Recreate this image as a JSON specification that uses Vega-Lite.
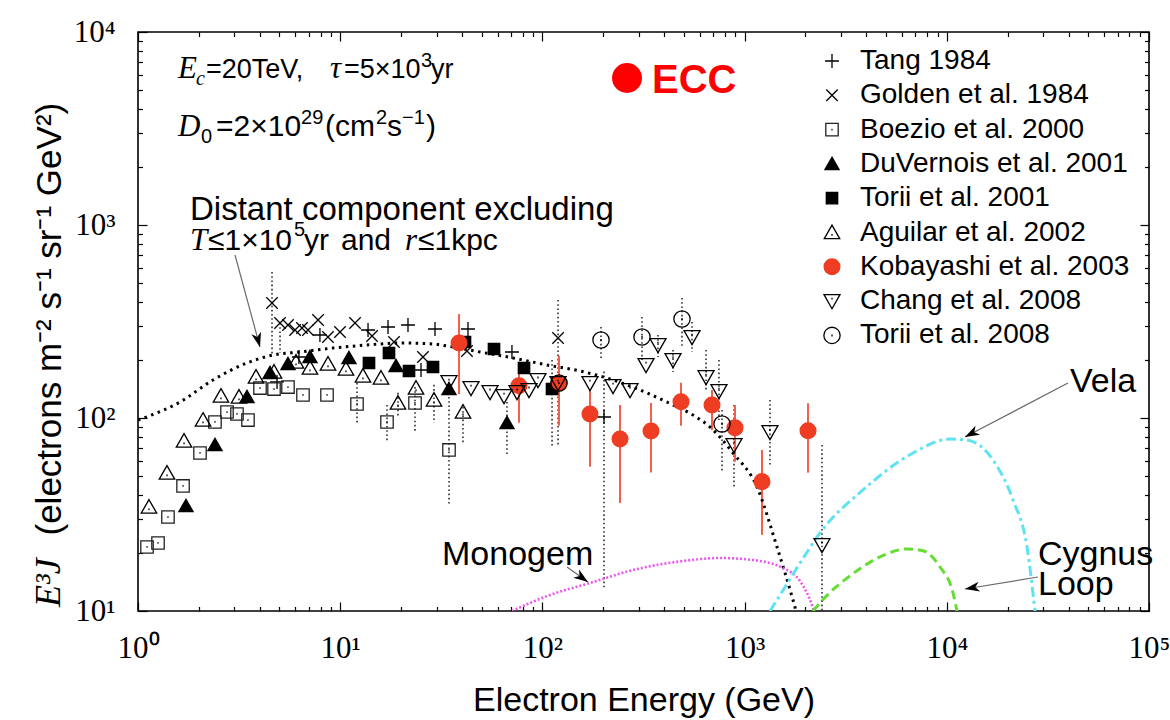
{
  "$schema": "https://vega.github.io/schema/vega-lite/v6.json",
  "width": 1011,
  "height": 579,
  "autosize": {"type": "none"},
  "padding": {"left": 138, "top": 32, "right": 21, "bottom": 109},
  "background": "white",
  "config": {
    "view": {"stroke": "black", "strokeWidth": 1.6, "fill": "white"},
    "axis": {
      "domain": false, "grid": false, "tickColor": "black", "tickWidth": 1.2,
      "labelFont": "Liberation Serif", "labelFontSize": 31, "labelColor": "black",
      "titleFont": "Liberation Sans", "titleFontSize": 34, "titleColor": "black", "titleFontWeight": "normal"
    },
    "legend": {
      "labelFont": "Liberation Sans", "labelFontSize": 28, "labelColor": "black", "labelLimit": 400,
      "symbolStrokeWidth": 1.3
    }
  },
  "datasets": {
    "obs": [
      {"set": "Tang 1984", "E": 4.87, "F": 153.7},
      {"set": "Tang 1984", "E": 6.25, "F": 207.1},
      {"set": "Tang 1984", "E": 7.94, "F": 269.2},
      {"set": "Tang 1984", "E": 13.73, "F": 285.8},
      {"set": "Tang 1984", "E": 17.24, "F": 296.2},
      {"set": "Tang 1984", "E": 21.64, "F": 303.3},
      {"set": "Tang 1984", "E": 25.1, "F": 177.3},
      {"set": "Tang 1984", "E": 29.43, "F": 289.1},
      {"set": "Tang 1984", "E": 42.85, "F": 289.1},
      {"set": "Tang 1984", "E": 70.7, "F": 219.8},
      {"set": "Tang 1984", "E": 201.7, "F": 101.2, "lo": 12.85, "hi": 174},
      {"set": "Golden et al. 1984", "E": 4.6, "F": 394.4, "lo": 212, "hi": 570.8},
      {"set": "Golden et al. 1984", "E": 5.04, "F": 310.6, "lo": 217.2, "hi": 310.6},
      {"set": "Golden et al. 1984", "E": 5.52, "F": 303.3},
      {"set": "Golden et al. 1984", "E": 5.98, "F": 285.8},
      {"set": "Golden et al. 1984", "E": 6.47, "F": 292.6},
      {"set": "Golden et al. 1984", "E": 6.93, "F": 285.8},
      {"set": "Golden et al. 1984", "E": 7.77, "F": 321.9},
      {"set": "Golden et al. 1984", "E": 8.7, "F": 262.8},
      {"set": "Golden et al. 1984", "E": 9.98, "F": 279.0},
      {"set": "Golden et al. 1984", "E": 11.84, "F": 310.6},
      {"set": "Golden et al. 1984", "E": 14.37, "F": 266.0},
      {"set": "Golden et al. 1984", "E": 18.45, "F": 247.6},
      {"set": "Golden et al. 1984", "E": 25.67, "F": 207.1},
      {"set": "Golden et al. 1984", "E": 42.37, "F": 222.4},
      {"set": "Golden et al. 1984", "E": 119.5, "F": 259.7, "lo": 70.74, "hi": 408.7},
      {"set": "Boezio et al. 2000", "E": 1.108, "F": 21.46},
      {"set": "Boezio et al. 2000", "E": 1.256, "F": 22.51},
      {"set": "Boezio et al. 2000", "E": 1.407, "F": 30.69},
      {"set": "Boezio et al. 2000", "E": 1.67, "F": 44.44},
      {"set": "Boezio et al. 2000", "E": 2.026, "F": 65.87},
      {"set": "Boezio et al. 2000", "E": 2.403, "F": 95.35},
      {"set": "Boezio et al. 2000", "E": 2.755, "F": 107.4},
      {"set": "Boezio et al. 2000", "E": 3.087, "F": 104.9},
      {"set": "Boezio et al. 2000", "E": 3.499, "F": 97.6},
      {"set": "Boezio et al. 2000", "E": 4.012, "F": 143.0},
      {"set": "Boezio et al. 2000", "E": 4.706, "F": 141.3},
      {"set": "Boezio et al. 2000", "E": 5.518, "F": 144.7},
      {"set": "Boezio et al. 2000", "E": 6.546, "F": 131.6},
      {"set": "Boezio et al. 2000", "E": 8.605, "F": 131.6},
      {"set": "Boezio et al. 2000", "E": 12.11, "F": 118.2, "lo": 94.2, "hi": 151.8},
      {"set": "Boezio et al. 2000", "E": 17.04, "F": 95.35, "lo": 75.1, "hi": 116.8},
      {"set": "Boezio et al. 2000", "E": 23.44, "F": 119.6, "lo": 84.6, "hi": 144.7},
      {"set": "Boezio et al. 2000", "E": 34.52, "F": 68.3, "lo": 35.4, "hi": 128.5},
      {"set": "DuVernois et al. 2001", "E": 1.727, "F": 35.0},
      {"set": "DuVernois et al. 2001", "E": 2.403, "F": 72.5},
      {"set": "DuVernois et al. 2001", "E": 3.46, "F": 128.5},
      {"set": "DuVernois et al. 2001", "E": 4.496, "F": 171.1},
      {"set": "DuVernois et al. 2001", "E": 5.518, "F": 190.5},
      {"set": "DuVernois et al. 2001", "E": 7.088, "F": 207.1},
      {"set": "DuVernois et al. 2001", "E": 11.05, "F": 204.6},
      {"set": "DuVernois et al. 2001", "E": 18.88, "F": 186.0},
      {"set": "DuVernois et al. 2001", "E": 34.52, "F": 141.3},
      {"set": "DuVernois et al. 2001", "E": 66.8, "F": 94.2, "lo": 64.3, "hi": 121.0},
      {"set": "Torii et al. 2001", "E": 13.88, "F": 192.8},
      {"set": "Torii et al. 2001", "E": 17.43, "F": 217.2},
      {"set": "Torii et al. 2001", "E": 21.89, "F": 175.2},
      {"set": "Torii et al. 2001", "E": 28.77, "F": 183.8},
      {"set": "Torii et al. 2001", "E": 41.42, "F": 247.6},
      {"set": "Torii et al. 2001", "E": 57.63, "F": 227.8},
      {"set": "Torii et al. 2001", "E": 81.1, "F": 181.6},
      {"set": "Torii et al. 2001", "E": 111.6, "F": 141.3, "lo": 69.9, "hi": 199.8},
      {"set": "Aguilar et al. 2002", "E": 1.133, "F": 34.6},
      {"set": "Aguilar et al. 2002", "E": 1.391, "F": 51.9},
      {"set": "Aguilar et al. 2002", "E": 1.689, "F": 76.0},
      {"set": "Aguilar et al. 2002", "E": 2.097, "F": 97.6},
      {"set": "Aguilar et al. 2002", "E": 2.573, "F": 130.0},
      {"set": "Aguilar et al. 2002", "E": 3.159, "F": 128.5},
      {"set": "Aguilar et al. 2002", "E": 3.834, "F": 163.1},
      {"set": "Aguilar et al. 2002", "E": 4.706, "F": 173.1},
      {"set": "Aguilar et al. 2002", "E": 6.045, "F": 195.1},
      {"set": "Aguilar et al. 2002", "E": 7.088, "F": 181.6},
      {"set": "Aguilar et al. 2002", "E": 8.703, "F": 190.5},
      {"set": "Aguilar et al. 2002", "E": 10.68, "F": 179.4},
      {"set": "Aguilar et al. 2002", "E": 12.96, "F": 165.1},
      {"set": "Aguilar et al. 2002", "E": 15.91, "F": 161.2},
      {"set": "Aguilar et al. 2002", "E": 19.31, "F": 119.6, "lo": 100, "hi": 135},
      {"set": "Aguilar et al. 2002", "E": 23.71, "F": 143.0},
      {"set": "Aguilar et al. 2002", "E": 29.1, "F": 124.0, "lo": 94.2, "hi": 148.5},
      {"set": "Aguilar et al. 2002", "E": 40.49, "F": 107.4, "lo": 74.2, "hi": 114.0},
      {"set": "Kobayashi et al. 2003", "E": 38.7, "F": 244.7, "lo": 133.1, "hi": 345.6},
      {"set": "Kobayashi et al. 2003", "E": 76.6, "F": 147.0, "lo": 94.6, "hi": 195.7},
      {"set": "Kobayashi et al. 2003", "E": 120.8, "F": 151.3, "lo": 91.2, "hi": 209.6},
      {"set": "Kobayashi et al. 2003", "E": 171.9, "F": 104.9, "lo": 55.9, "hi": 139.7},
      {"set": "Kobayashi et al. 2003", "E": 242.0, "F": 77.8, "lo": 36.3, "hi": 116.8},
      {"set": "Kobayashi et al. 2003", "E": 344.4, "F": 85.6, "lo": 52.2, "hi": 119.6},
      {"set": "Kobayashi et al. 2003", "E": 484.7, "F": 121.5, "lo": 91.2, "hi": 152.4},
      {"set": "Kobayashi et al. 2003", "E": 689.9, "F": 116.8, "lo": 86.7, "hi": 139.7},
      {"set": "Kobayashi et al. 2003", "E": 896.4, "F": 89.1, "lo": 59.4, "hi": 116.8},
      {"set": "Kobayashi et al. 2003", "E": 1219, "F": 46.8, "lo": 24.8, "hi": 68.3},
      {"set": "Kobayashi et al. 2003", "E": 2059, "F": 85.9, "lo": 52.1, "hi": 119.2},
      {"set": "Chang et al. 2008", "E": 34.52, "F": 153.6},
      {"set": "Chang et al. 2008", "E": 44.36, "F": 143.0},
      {"set": "Chang et al. 2008", "E": 55.07, "F": 136.4},
      {"set": "Chang et al. 2008", "E": 64.59, "F": 130.0},
      {"set": "Chang et al. 2008", "E": 74.88, "F": 136.4},
      {"set": "Chang et al. 2008", "E": 85.85, "F": 139.7},
      {"set": "Chang et al. 2008", "E": 95.1, "F": 157.4},
      {"set": "Chang et al. 2008", "E": 119.5, "F": 151.8},
      {"set": "Chang et al. 2008", "E": 171.9, "F": 151.8},
      {"set": "Chang et al. 2008", "E": 223.5, "F": 146.5},
      {"set": "Chang et al. 2008", "E": 271.2, "F": 139.7},
      {"set": "Chang et al. 2008", "E": 325.4, "F": 188.2},
      {"set": "Chang et al. 2008", "E": 373.0, "F": 238.9, "lo": 207.1, "hi": 269.2},
      {"set": "Chang et al. 2008", "E": 442.5, "F": 199.8, "lo": 173.1, "hi": 225.1},
      {"set": "Chang et al. 2008", "E": 549.5, "F": 262.8, "lo": 219.8, "hi": 314.3},
      {"set": "Chang et al. 2008", "E": 644.5, "F": 163.1, "lo": 139.7, "hi": 225.1},
      {"set": "Chang et al. 2008", "E": 746.9, "F": 138.0, "lo": 97.6, "hi": 199.8},
      {"set": "Chang et al. 2008", "E": 886.3, "F": 72.5, "lo": 43.9, "hi": 116.8},
      {"set": "Chang et al. 2008", "E": 1335, "F": 84.6, "lo": 57.1, "hi": 124.0},
      {"set": "Chang et al. 2008", "E": 2414, "F": 21.98, "lo": 10, "hi": 72.5},
      {"set": "Torii et al. 2008", "E": 120.8, "F": 151.8},
      {"set": "Torii et al. 2008", "E": 194.9, "F": 253.6, "lo": 204.6, "hi": 296.2},
      {"set": "Torii et al. 2008", "E": 310.9, "F": 262.8, "lo": 199.8, "hi": 333.6},
      {"set": "Torii et al. 2008", "E": 490.2, "F": 325.8, "lo": 230.5, "hi": 418.6},
      {"set": "Torii et al. 2008", "E": 773.3, "F": 93.1, "lo": 51.9, "hi": 110.0}
    ],
    "curves": [
      {"c": "distant", "E": 1, "F": 97.6},
      {"c": "distant", "E": 1.613, "F": 121.0},
      {"c": "distant", "E": 2.349, "F": 157.4},
      {"c": "distant", "E": 3.46, "F": 192.8},
      {"c": "distant", "E": 4.652, "F": 212.0},
      {"c": "distant", "E": 6.327, "F": 219.8},
      {"c": "distant", "E": 9.213, "F": 230.5},
      {"c": "distant", "E": 13.57, "F": 238.9},
      {"c": "distant", "E": 19.76, "F": 244.7},
      {"c": "distant", "E": 28.77, "F": 241.8},
      {"c": "distant", "E": 33.75, "F": 236.1},
      {"c": "distant", "E": 49.14, "F": 219.8},
      {"c": "distant", "E": 71.54, "F": 204.6},
      {"c": "distant", "E": 105.4, "F": 188.2},
      {"c": "distant", "E": 153.5, "F": 175.2},
      {"c": "distant", "E": 223.5, "F": 157.4},
      {"c": "distant", "E": 329.1, "F": 134.8},
      {"c": "distant", "E": 442.5, "F": 116.8},
      {"c": "distant", "E": 555.7, "F": 103.6},
      {"c": "distant", "E": 674.6, "F": 89.8},
      {"c": "distant", "E": 876.2, "F": 65.87},
      {"c": "distant", "E": 1152, "F": 43.9},
      {"c": "distant", "E": 1446, "F": 21.46},
      {"c": "distant", "E": 1735, "F": 11.4},
      {"c": "distant", "E": 1796, "F": 10},
      {"c": "monogem", "E": 70.7, "F": 10},
      {"c": "monogem", "E": 86.8, "F": 11.0},
      {"c": "monogem", "E": 109.0, "F": 12.1},
      {"c": "monogem", "E": 171.9, "F": 13.97},
      {"c": "monogem", "E": 280.6, "F": 16.3},
      {"c": "monogem", "E": 496, "F": 18.16},
      {"c": "monogem", "E": 755.7, "F": 18.82},
      {"c": "monogem", "E": 1100, "F": 18.37},
      {"c": "monogem", "E": 1548, "F": 16.7},
      {"c": "monogem", "E": 1879, "F": 14.3},
      {"c": "monogem", "E": 2154, "F": 10.74},
      {"c": "monogem", "E": 2204, "F": 10},
      {"c": "vela", "E": 1335, "F": 10},
      {"c": "vela", "E": 1497, "F": 12.1},
      {"c": "vela", "E": 1879, "F": 17.7},
      {"c": "vela", "E": 2360, "F": 25.4},
      {"c": "vela", "E": 3851, "F": 42.4},
      {"c": "vela", "E": 6806, "F": 65.87},
      {"c": "vela", "E": 10370, "F": 77.8},
      {"c": "vela", "E": 12588, "F": 76.9},
      {"c": "vela", "E": 16925, "F": 60.6},
      {"c": "vela", "E": 21257, "F": 37.6},
      {"c": "vela", "E": 24925, "F": 21.46},
      {"c": "vela", "E": 27310, "F": 10},
      {"c": "cygnus", "E": 2179, "F": 10},
      {"c": "cygnus", "E": 2645, "F": 12.5},
      {"c": "cygnus", "E": 3210, "F": 14.8},
      {"c": "cygnus", "E": 4673, "F": 19.05},
      {"c": "cygnus", "E": 6356, "F": 20.96},
      {"c": "cygnus", "E": 7625, "F": 20.5},
      {"c": "cygnus", "E": 9256, "F": 16.9},
      {"c": "cygnus", "E": 10733, "F": 12.4},
      {"c": "cygnus", "E": 11231, "F": 10}
    ],
    "arrows": [
      {"to": "distant", "x1": 3.018, "y1": 699.2, "x2": 4.012, "y2": 233.3, "angle": 164.8},
      {"to": "monogem", "x1": 132.3, "y1": 16.9, "x2": 168.1, "y2": 14.13, "angle": 125.5},
      {"to": "vela", "x1": 39760, "y1": 151.8, "x2": 12303, "y2": 79.7, "angle": 242.3},
      {"to": "cygnus", "x1": 28250, "y1": 15.0, "x2": 12303, "y2": 13.0, "angle": 260.7}
    ]
  },
  "resolve": {"axis": {"x": "independent", "y": "independent"}},
  "layer": [
    {
      "data": {"name": "obs"},
      "transform": [{"filter": "datum.lo != null && datum.set != 'Kobayashi et al. 2003'"}],
      "mark": {"type": "rule", "color": "black", "strokeWidth": 1.3, "strokeDash": [1.6, 2.6]},
      "encoding": {
        "x": {
          "field": "E", "type": "quantitative",
          "scale": {"type": "log", "domain": [1, 100000], "nice": false},
          "axis": {
            "orient": "bottom", "values": [1, 10, 100, 1000, 10000, 100000], "tickSize": -9,
            "labelPadding": 55, "labelBaseline": "alphabetic", "labelFlush": false, "labelOverlap": false,
            "labelExpr": "'10' + ['⁰','¹','²','³','⁴','⁵'][round(log(datum.value) / LN10)]",
            "title": "Electron Energy (GeV)", "titleX": 505.5, "titleY": 99,
            "titleBaseline": "alphabetic", "titleAlign": "center", "titleAnchor": null
          }
        },
        "y": {
          "field": "hi", "type": "quantitative",
          "scale": {"type": "log", "domain": [10, 10000], "nice": false},
          "axis": {
            "orient": "left", "values": [10, 100, 1000, 10000], "tickSize": -9,
            "labelPadding": 32, "labelBaseline": "middle", "labelAlign": "right", "labelOverlap": false,
            "labelExpr": "'10' + ['⁰','¹','²','³','⁴','⁵'][round(log(datum.value) / LN10)]",
            "title": "(electrons m⁻² s⁻¹ sr⁻¹ GeV²)", "titleFontSize": 35,
            "titleAngle": -90, "titleX": -78, "titleY": 503, "titleAlign": "left", "titleBaseline": "alphabetic"
          }
        },
        "y2": {"field": "lo"}
      }
    },
    {
      "data": {"name": "obs"},
      "transform": [{"filter": "datum.lo != null && datum.set == 'Kobayashi et al. 2003'"}],
      "mark": {"type": "rule", "color": "#f2604d", "strokeWidth": 2},
      "encoding": {
        "x": {
          "field": "E", "type": "quantitative",
          "scale": {"type": "log", "domain": [1, 100000], "nice": false},
          "axis": {
            "orient": "bottom", "tickSize": -4.5, "labels": false, "title": null,
            "values": [2,3,4,5,6,7,8,9,20,30,40,50,60,70,80,90,200,300,400,500,600,700,800,900,2000,3000,4000,5000,6000,7000,8000,9000,20000,30000,40000,50000,60000,70000,80000,90000]
          }
        },
        "y": {
          "field": "hi", "type": "quantitative",
          "scale": {"type": "log", "domain": [10, 10000], "nice": false},
          "axis": {
            "orient": "left", "tickSize": -4.5, "labels": false, "title": null,
            "values": [20,30,40,50,60,70,80,90,200,300,400,500,600,700,800,900,2000,3000,4000,5000,6000,7000,8000,9000]
          }
        },
        "y2": {"field": "lo"}
      }
    },
    {
      "data": {"name": "curves"},
      "transform": [{"filter": "datum.c == 'distant'"}],
      "mark": {"type": "line", "color": "black", "strokeWidth": 3, "strokeDash": [2.5, 4.5], "interpolate": "monotone", "clip": true},
      "encoding": {
        "x": {
          "field": "E", "type": "quantitative",
          "scale": {"type": "log", "domain": [1, 100000], "nice": false},
          "axis": {"orient": "top", "values": [1, 10, 100, 1000, 10000, 100000], "tickSize": -9, "labels": false, "title": null}
        },
        "y": {
          "field": "F", "type": "quantitative",
          "scale": {"type": "log", "domain": [10, 10000], "nice": false},
          "axis": {"orient": "right", "values": [10, 100, 1000, 10000], "tickSize": -9, "labels": false, "title": null}
        }
      }
    },
    {
      "data": {"name": "curves"},
      "transform": [{"filter": "datum.c == 'monogem'"}],
      "mark": {"type": "line", "color": "#ee55ee", "strokeWidth": 2.6, "strokeDash": [2, 2], "interpolate": "monotone", "clip": true},
      "encoding": {
        "x": {
          "field": "E", "type": "quantitative",
          "scale": {"type": "log", "domain": [1, 100000], "nice": false},
          "axis": {
            "orient": "top", "tickSize": -4.5, "labels": false, "title": null,
            "values": [2,3,4,5,6,7,8,9,20,30,40,50,60,70,80,90,200,300,400,500,600,700,800,900,2000,3000,4000,5000,6000,7000,8000,9000,20000,30000,40000,50000,60000,70000,80000,90000]
          }
        },
        "y": {
          "field": "F", "type": "quantitative",
          "scale": {"type": "log", "domain": [10, 10000], "nice": false},
          "axis": {
            "orient": "right", "tickSize": -4.5, "labels": false, "title": null,
            "values": [20,30,40,50,60,70,80,90,200,300,400,500,600,700,800,900,2000,3000,4000,5000,6000,7000,8000,9000]
          }
        }
      }
    },
    {
      "data": {"name": "curves"},
      "transform": [{"filter": "datum.c == 'vela'"}],
      "mark": {"type": "line", "color": "#5fe3f2", "strokeWidth": 3, "strokeDash": [10, 4, 3, 4], "interpolate": "monotone", "clip": true},
      "encoding": {
        "x": {"field": "E", "type": "quantitative", "scale": {"type": "log", "domain": [1, 100000], "nice": false}, "axis": null},
        "y": {"field": "F", "type": "quantitative", "scale": {"type": "log", "domain": [10, 10000], "nice": false}, "axis": null}
      }
    },
    {
      "data": {"name": "curves"},
      "transform": [{"filter": "datum.c == 'cygnus'"}],
      "mark": {"type": "line", "color": "#66dd33", "strokeWidth": 3, "strokeDash": [9, 5], "interpolate": "monotone", "clip": true},
      "encoding": {
        "x": {"field": "E", "type": "quantitative", "scale": {"type": "log", "domain": [1, 100000], "nice": false}, "axis": null},
        "y": {"field": "F", "type": "quantitative", "scale": {"type": "log", "domain": [10, 10000], "nice": false}, "axis": null}
      }
    },
    {
      "data": {"name": "arrows"},
      "mark": {"type": "rule", "color": "#6b6b6b", "strokeWidth": 1.2},
      "encoding": {
        "x": {"field": "x1", "type": "quantitative", "axis": null},
        "y": {"field": "y1", "type": "quantitative", "axis": null},
        "x2": {"field": "x2"},
        "y2": {"field": "y2"}
      }
    },
    {
      "data": {"name": "arrows"},
      "mark": {"type": "point", "shape": "M0,0L-0.55,1.6L0,1.15L0.55,1.6Z", "filled": true, "color": "black", "size": 330, "opacity": 1},
      "encoding": {
        "x": {"field": "x2", "type": "quantitative", "axis": null},
        "y": {"field": "y2", "type": "quantitative", "axis": null},
        "angle": {"field": "angle", "type": "quantitative", "scale": null}
      }
    },
    {
      "data": {"name": "obs"},
      "mark": {"type": "point", "strokeWidth": 1.3, "opacity": 1},
      "encoding": {
        "x": {"field": "E", "type": "quantitative", "axis": null},
        "y": {"field": "F", "type": "quantitative", "axis": null},
        "shape": {
          "field": "set", "type": "nominal",
          "scale": {
            "domain": ["Tang 1984", "Golden et al. 1984", "Boezio et al. 2000", "DuVernois et al. 2001", "Torii et al. 2001", "Aguilar et al. 2002", "Kobayashi et al. 2003", "Chang et al. 2008", "Torii et al. 2008"],
            "range": [
              "M-1,0H1M0,-1V1",
              "M-0.8,-0.8L0.8,0.8M-0.8,0.8L0.8,-0.8",
              "M-0.85,-0.85H0.85V0.85H-0.85Z M0,-0.12V0.12",
              "M0,-0.9L0.95,0.75H-0.95Z",
              "M-0.75,-0.75H0.75V0.75H-0.75Z",
              "M0,-0.95L1,0.8H-1Z M0,0.2V0.42",
              "circle",
              "M-1,-0.8H1L0,0.95Z M0,-0.42V-0.2",
              "M1,0A1,1 0 1,1 -1,0A1,1 0 1,1 1,0Z M0,-0.12V0.12"
            ]
          },
          "legend": {"orient": "none", "legendX": 680, "legendY": 15, "title": null, "padding": 0, "rowPadding": 6.3, "labelOffset": 14}
        },
        "fill": {
          "field": "set", "type": "nominal",
          "scale": {
            "domain": ["Tang 1984", "Golden et al. 1984", "Boezio et al. 2000", "DuVernois et al. 2001", "Torii et al. 2001", "Aguilar et al. 2002", "Kobayashi et al. 2003", "Chang et al. 2008", "Torii et al. 2008"],
            "range": ["transparent", "transparent", "transparent", "black", "black", "transparent", "#ee3d23", "transparent", "transparent"]
          },
          "legend": {"orient": "none", "legendX": 680, "legendY": 15, "title": null, "padding": 0, "rowPadding": 6.3, "labelOffset": 14}
        },
        "stroke": {
          "field": "set", "type": "nominal",
          "scale": {
            "domain": ["Tang 1984", "Golden et al. 1984", "Boezio et al. 2000", "DuVernois et al. 2001", "Torii et al. 2001", "Aguilar et al. 2002", "Kobayashi et al. 2003", "Chang et al. 2008", "Torii et al. 2008"],
            "range": ["black", "black", "#222222", "black", "black", "black", "#ee3d23", "black", "black"]
          },
          "legend": {"orient": "none", "legendX": 680, "legendY": 15, "title": null, "padding": 0, "rowPadding": 6.3, "labelOffset": 14}
        },
        "size": {
          "field": "set", "type": "nominal",
          "scale": {
            "domain": ["Tang 1984", "Golden et al. 1984", "Boezio et al. 2000", "DuVernois et al. 2001", "Torii et al. 2001", "Aguilar et al. 2002", "Kobayashi et al. 2003", "Chang et al. 2008", "Torii et al. 2008"],
            "range": [196, 265, 234, 219, 300, 225, 390, 225, 256]
          },
          "legend": {"orient": "none", "legendX": 680, "legendY": 15, "title": null, "padding": 0, "rowPadding": 6.3, "labelOffset": 14}
        }
      }
    },
    {
      "data": {"values": [
        {"t": "=20TeV,", "x": 2.169, "y": 5777},
        {"t": "=5×10", "x": 10.44, "y": 5777},
        {"t": "yr", "x": 28.13, "y": 5777}
      ]},
      "mark": {"type": "text", "font": "Liberation Sans", "fontSize": 27, "align": "left", "baseline": "alphabetic", "color": "black"},
      "encoding": {
        "x": {"field": "x", "type": "quantitative", "axis": null},
        "y": {"field": "y", "type": "quantitative", "axis": null},
        "text": {"field": "t"}
      }
    },
    {
      "data": {"values": [
        {"t": "=2×10", "x": 2.431, "y": 2891},
        {"t": "(cm", "x": 8.411, "y": 2891},
        {"t": "s", "x": 17.04, "y": 2891},
        {"t": ")", "x": 26.57, "y": 2891},
        {"t": "≤1×10", "x": 2.219, "y": 742.2},
        {"t": "yr", "x": 6.622, "y": 742.2},
        {"t": "and", "x": 10.09, "y": 742.2},
        {"t": "≤1kpc", "x": 24.25, "y": 742.2}
      ]},
      "mark": {"type": "text", "font": "Liberation Sans", "fontSize": 30, "align": "left", "baseline": "alphabetic", "color": "black"},
      "encoding": {
        "x": {"field": "x", "type": "quantitative", "axis": null},
        "y": {"field": "y", "type": "quantitative", "axis": null},
        "text": {"field": "t"}
      }
    },
    {
      "data": {"values": [
        {"t": "E", "x": 1.577, "y": 5777},
        {"t": "τ", "x": 8.905, "y": 5777},
        {"t": "D", "x": 1.577, "y": 2891},
        {"t": "T", "x": 1.808, "y": 742.2},
        {"t": "r", "x": 20.91, "y": 742.2}
      ]},
      "mark": {"type": "text", "font": "Liberation Serif", "fontStyle": "italic", "fontSize": 31, "align": "left", "baseline": "alphabetic", "color": "black"},
      "encoding": {
        "x": {"field": "x", "type": "quantitative", "axis": null},
        "y": {"field": "y", "type": "quantitative", "axis": null},
        "text": {"field": "t"}
      }
    },
    {
      "data": {"values": [
        {"t": "c", "x": 1.936, "y": 5313}
      ]},
      "mark": {"type": "text", "font": "Liberation Serif", "fontStyle": "italic", "fontSize": 20, "align": "left", "baseline": "alphabetic", "color": "black"},
      "encoding": {
        "x": {"field": "x", "type": "quantitative", "axis": null},
        "y": {"field": "y", "type": "quantitative", "axis": null},
        "text": {"field": "t"}
      }
    },
    {
      "data": {"values": [
        {"t": "3", "x": 25.1, "y": 6587},
        {"t": "0", "x": 2.049, "y": 2660},
        {"t": "29", "x": 6.4, "y": 3336},
        {"t": "2", "x": 15.03, "y": 3336},
        {"t": "−1", "x": 20.21, "y": 3336},
        {"t": "5", "x": 5.909, "y": 877}
      ]},
      "mark": {"type": "text", "font": "Liberation Sans", "fontSize": 20, "align": "left", "baseline": "alphabetic", "color": "black"},
      "encoding": {
        "x": {"field": "x", "type": "quantitative", "axis": null},
        "y": {"field": "y", "type": "quantitative", "axis": null},
        "text": {"field": "t"}
      }
    },
    {
      "data": {"values": [
        {"t": "Distant component excluding", "x": 1.808, "y": 1061}
      ]},
      "mark": {"type": "text", "font": "Liberation Sans", "fontSize": 33, "align": "left", "baseline": "alphabetic", "color": "black"},
      "encoding": {
        "x": {"field": "x", "type": "quantitative", "axis": null},
        "y": {"field": "y", "type": "quantitative", "axis": null},
        "text": {"field": "t"}
      }
    },
    {
      "data": {"values": [
        {"t": "Monogem", "x": 31.88, "y": 17.31},
        {"t": "Vela", "x": 40670, "y": 136.4},
        {"t": "Cygnus", "x": 28250, "y": 17.31},
        {"t": "Loop", "x": 28250, "y": 12.1}
      ]},
      "mark": {"type": "text", "font": "Liberation Sans", "fontSize": 34, "align": "left", "baseline": "alphabetic", "color": "black"},
      "encoding": {
        "x": {"field": "x", "type": "quantitative", "axis": null},
        "y": {"field": "y", "type": "quantitative", "axis": null},
        "text": {"field": "t"}
      }
    },
    {
      "data": {"values": [
        {"t": "E³J", "x": 0.4113, "y": 10.49}
      ]},
      "mark": {"type": "text", "font": "Liberation Serif", "fontStyle": "italic", "fontSize": 36, "angle": 270, "align": "left", "baseline": "alphabetic", "color": "black"},
      "encoding": {
        "x": {"field": "x", "type": "quantitative", "axis": null},
        "y": {"field": "y", "type": "quantitative", "axis": null},
        "text": {"field": "t"}
      }
    },
    {
      "data": {"values": [
        {"t": "ECC", "x": 262.1, "y": 5777, "tx": 348.3, "ty": 4830}
      ]},
      "layer": [
        {
          "mark": {"type": "point", "shape": "circle", "filled": true, "color": "#ff0000", "size": 900, "opacity": 1},
          "encoding": {
            "x": {"field": "x", "type": "quantitative", "axis": null},
            "y": {"field": "y", "type": "quantitative", "axis": null}
          }
        },
        {
          "mark": {"type": "text", "font": "Liberation Sans", "fontWeight": "bold", "fontSize": 40, "align": "left", "baseline": "alphabetic", "color": "#ff0000"},
          "encoding": {
            "x": {"field": "tx", "type": "quantitative", "axis": null},
            "y": {"field": "ty", "type": "quantitative", "axis": null},
            "text": {"field": "t"}
          }
        }
      ]
    }
  ]
}
